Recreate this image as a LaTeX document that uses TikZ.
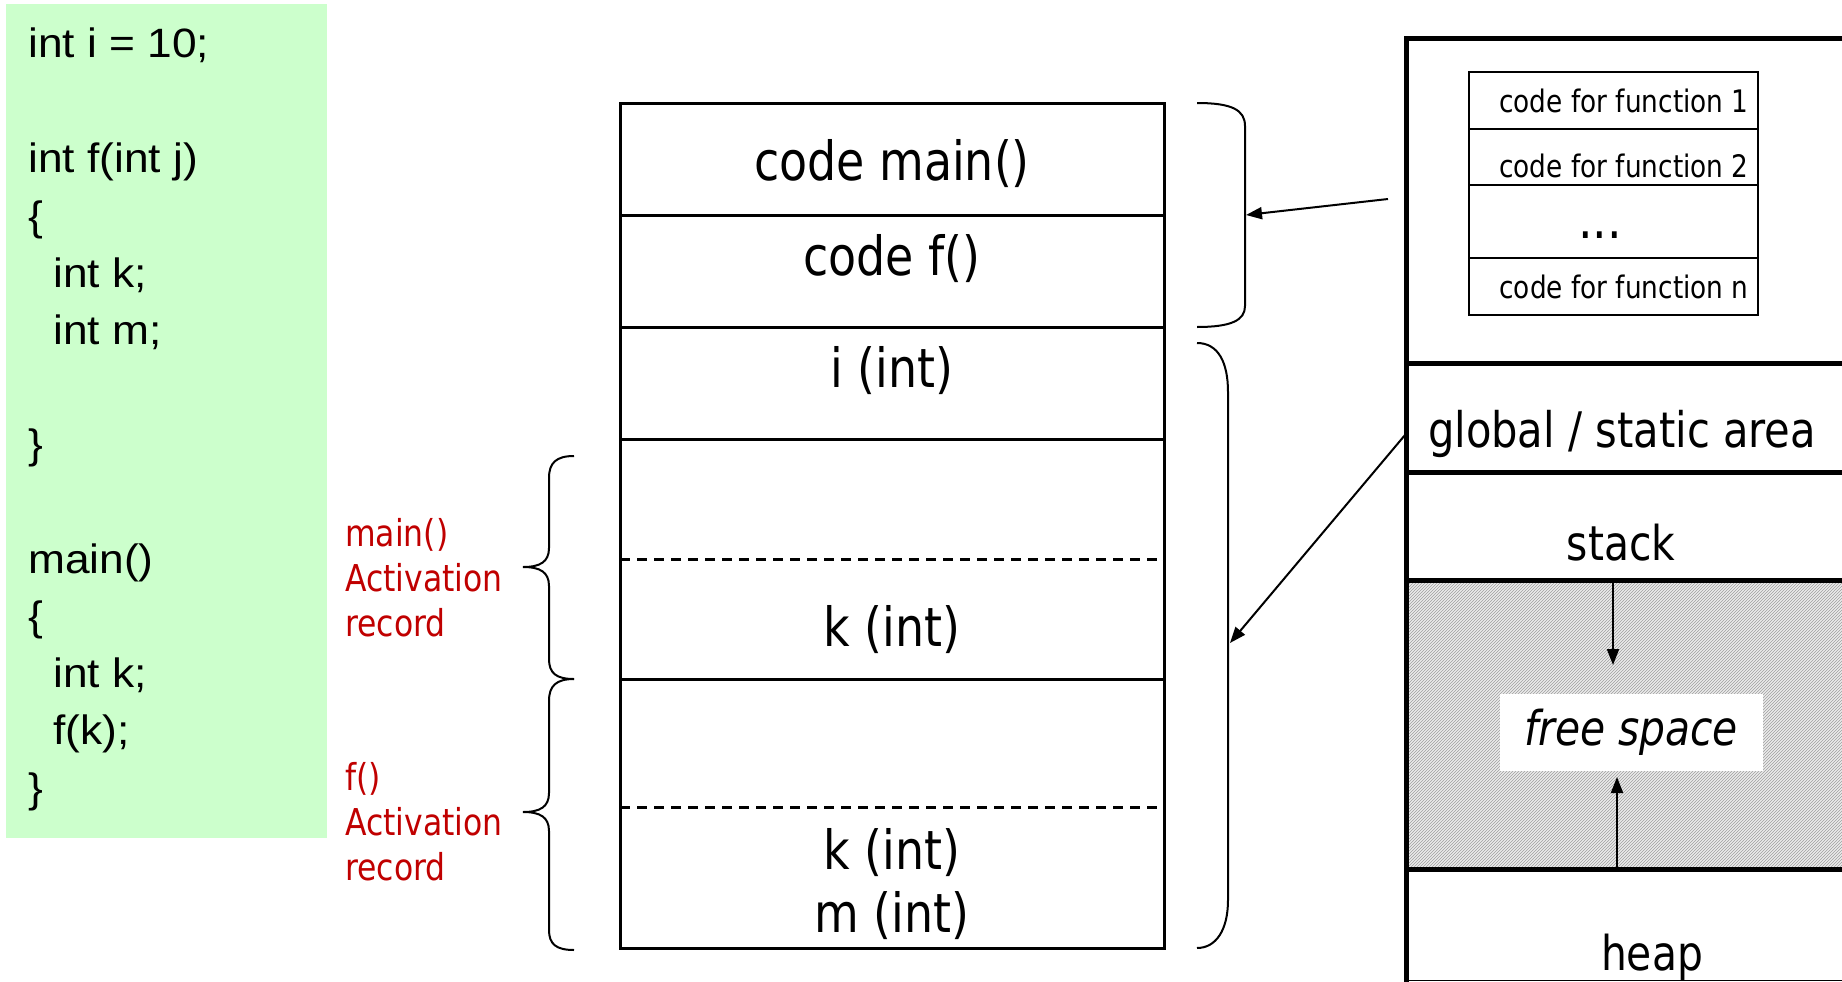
\documentclass[tikz,border=0pt]{standalone}
\usepackage{fontspec}
\setmainfont{Liberation Sans}[FakeStretch=1.08]
\newfontfamily\tahoma[FakeStretch=0.85]{DejaVu Sans}
\usepackage{xcolor}
\usetikzlibrary{arrows.meta,patterns}
\definecolor{codegreen}{HTML}{CCFFCC}
\definecolor{recred}{HTML}{C00000}
\tikzset{
  codeline/.style={anchor=base west,inner sep=0pt,font=\fontsize{41}{48}\selectfont},
  celltext/.style={anchor=base,inner sep=0pt,font=\tahoma\fontsize{54}{62}\selectfont},
  fntext/.style={anchor=base,inner sep=0pt,font=\tahoma\fontsize{31}{38}\selectfont},
  areatext/.style={anchor=base,inner sep=0pt,font=\tahoma\fontsize{48}{58}\selectfont},
  arlabel/.style={anchor=west,inner sep=0pt,align=left,text=recred,
    font=\tahoma\fontsize{37}{45}\selectfont},
  memline/.style={line width=3pt},
  colline/.style={line width=5pt},
  boxline/.style={line width=2pt},
  bracket/.style={line width=2pt},
  conn/.style={line width=2pt,-{Triangle[length=16pt,width=12pt]}}
}
\begin{document}
\begin{tikzpicture}[x=1pt,y=-1pt]
  \useasboundingbox (0,0) rectangle (1842,982);

  % source code
  \fill[codegreen] (6,4) rectangle (327,838);
  \node[codeline] (c1) at (28,58) {int i = 10;};
  \node[codeline] (c3) at (28,172) {int f(int j)};
  \node[codeline] (c4) at (28,230) {\{};
  \node[codeline] (c5) at (53,287) {int k;};
  \node[codeline] (c6) at (53,344) {int m;};
  \node[codeline] (c8) at (28,458) {\}};
  \node[codeline] (c10) at (28,573) {main()};
  \node[codeline] (c11) at (28,630) {\{};
  \node[codeline] (c12) at (53,687) {int k;};
  \node[codeline] (c13) at (53,744) {f(k);};
  \node[codeline] (c14) at (28,802) {\}};

  % memory of the program
  \draw[memline] (620,103) rectangle (1164,948);
  \foreach \y in {215,327,439,679}
    \draw[memline] (620,\y) -- (1164,\y);
  \foreach \y in {559,807}
    \draw[memline,dash pattern=on 10pt off 7pt] (620,\y) -- (1164,\y);
  \node[celltext] (cmain) at (892,180) {code main()};
  \node[celltext] (cf) at (892,275) {code f()};
  \node[celltext] (vi) at (892,387) {i (int)};
  \node[celltext] (vk1) at (892,646) {k (int)};
  \node[celltext] (vk2) at (892,869) {k (int)};
  \node[celltext] (vm) at (892,932) {m (int)};

  % activation records
  \draw[bracket] (574,456) .. controls (556,456) and (549,463) .. (549,478)
    -- (549,548) .. controls (549,562) and (540,567) .. (523,567)
    .. controls (540,567) and (549,572) .. (549,586)
    -- (549,659) .. controls (549,673) and (556,679) .. (574,679);
  \draw[bracket] (574,679) .. controls (556,679) and (549,686) .. (549,701)
    -- (549,793) .. controls (549,807) and (540,812) .. (523,812)
    .. controls (540,812) and (549,817) .. (549,831)
    -- (549,930) .. controls (549,944) and (556,950) .. (574,950);
  \node[arlabel] (armain) at (345,578) {main()\\Activation\\record};
  \node[arlabel] (arf) at (345,822) {f()\\Activation\\record};

  % code part and data part
  \draw[bracket] (1197,103) .. controls (1232,103) and (1245,110) .. (1245,126)
    -- (1245,306) .. controls (1245,320) and (1232,327) .. (1197,327);
  \draw[bracket] (1197,343) .. controls (1218,343) and (1228,362) .. (1228,392)
    -- (1228,900) .. controls (1228,930) and (1216,948) .. (1197,948);
  \coordinate (codetip) at (1246,215);
  \coordinate (datatip) at (1230,643);

  % layout of memory
  \fill[gray!15] (1406,580) rectangle (1842,869);
  \fill[pattern=north east lines,pattern color=gray!75] (1406,580) rectangle (1842,869);
  \node[fill=white,minimum width=263pt,minimum height=77pt,inner sep=0pt,
    font=\tahoma\itshape\fontsize{48}{58}\selectfont] (free) at (1631,732) {free space};
  \draw[colline] (1406,37) -- (1406,982);
  \foreach \y in {39,363,472,580,869}
    \draw[colline] (1404,\y) -- (1842,\y);
  \draw[line width=1pt] (1406,980) -- (1842,980);
  \draw[boxline] (1469,72) rectangle (1758,315);
  \foreach \y in {129,185,258}
    \draw[boxline] (1469,\y) -- (1758,\y);
  \node[fntext] (fn1) at (1624,112) {code for function 1};
  \node[fntext] (fn2) at (1624,177) {code for function 2};
  \node[fntext,font=\tahoma\fontsize{54}{58}\selectfont] (fndots) at (1600,238) {...};
  \node[fntext] (fnn) at (1624,298) {code for function n};
  \node[areatext,font=\tahoma\fontsize{49}{58}\selectfont] (glob) at (1622,447) {global / static area};
  \node[areatext] (stack) at (1621,560) {stack};
  \node[areatext] (heap) at (1652,970) {heap};
  \coordinate (codesrc) at (1388,199);
  \coordinate (globsrc) at (1405,435);
  \coordinate (stacktop) at (1613,582);
  \coordinate (stacktip) at (1613,665);
  \coordinate (heaptop) at (1617,867);
  \coordinate (heaptip) at (1617,777);

  % pointers
  \draw[conn] (codesrc) -- (codetip);
  \draw[conn] (globsrc) -- (datatip);
  \draw[conn] (stacktop) -- (stacktip);
  \draw[conn] (heaptop) -- (heaptip);
\end{tikzpicture}
\end{document}
